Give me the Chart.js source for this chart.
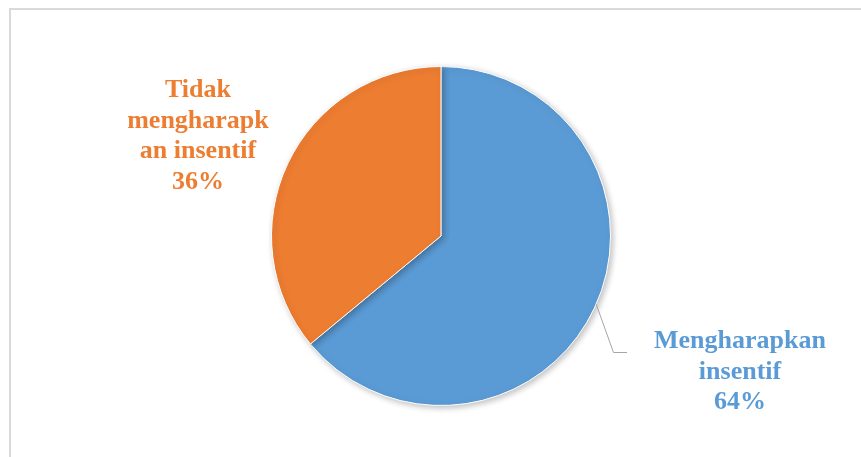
<!DOCTYPE html>
<html>
<head>
<meta charset="utf-8">
<script src="https://cdn.jsdelivr.net/npm/chart.js@4/dist/chart.umd.min.js"></script>
<style>
  body { margin: 0; background: #fff; }
  #wrap { width: 861px; height: 457px; position: relative; }
</style>
</head>
<body>
<div id="wrap"><canvas id="pieChart" width="861" height="457"></canvas></div>
<script>
const categories = ["Mengharapkan insentif", "Tidak mengharapkan insentif"];
const values = [64, 36];
const labelLines = [
  ["Mengharapkan", "insentif", "64%"],
  ["Tidak", "mengharapk", "an insentif", "36%"]
];
const colors = ["#5b9bd5", "#ed7d31"];

// frame line on the top and left edges
const framePlugin = {
  id: "frame",
  beforeDraw(chart) {
    const ctx = chart.ctx;
    ctx.save();
    ctx.strokeStyle = "#d9d9d9";
    ctx.lineWidth = 2;
    ctx.beginPath();
    ctx.moveTo(10, chart.height);
    ctx.lineTo(10, 9);
    ctx.lineTo(chart.width, 9);
    ctx.stroke();
    ctx.restore();
  }
};

// soft shadow under the pie
const shadowPlugin = {
  id: "pieShadow",
  beforeDatasetsDraw(chart) {
    const ctx = chart.ctx;
    ctx.save();
    ctx.shadowColor = "rgba(0,0,0,0.25)";
    ctx.shadowBlur = 6;
    ctx.shadowOffsetX = 2;
    ctx.shadowOffsetY = 2;
  },
  afterDatasetsDraw(chart) {
    chart.ctx.restore();
  }
};

// label baselines placed relative to the pie centre, plus the leader line
const labelOffsets = [[299, 112], [-243, -139]];
const labelPlugin = {
  id: "sliceLabels",
  afterDatasetsDraw(chart) {
    const ctx = chart.ctx;
    const arc = chart.getDatasetMeta(0).data[0];
    const cx = arc.x, cy = arc.y, r = arc.outerRadius;
    ctx.save();
    // leader line for the blue slice
    const a = Math.atan2(69, 157);
    ctx.strokeStyle = "#a6a6a6";
    ctx.lineWidth = 1;
    ctx.beginPath();
    ctx.moveTo(cx + Math.cos(a) * r, cy + Math.sin(a) * r);
    ctx.lineTo(cx + 172.5, cy + 116.5);
    ctx.lineTo(cx + 186, cy + 116.5);
    ctx.stroke();

    ctx.font = "bold 26px 'Liberation Serif', 'Times New Roman', serif";
    ctx.textAlign = "center";
    ctx.textBaseline = "alphabetic";
    labelLines.forEach((lines, i) => {
      ctx.fillStyle = colors[i];
      lines.forEach((t, j) => {
        ctx.fillText(t, cx + labelOffsets[i][0], cy + labelOffsets[i][1] + j * 30.5);
      });
    });
    ctx.restore();
  }
};

new Chart(document.getElementById("pieChart"), {
  type: "pie",
  data: {
    labels: categories,
    datasets: [{
      data: values,
      backgroundColor: colors,
      borderColor: "#ffffff",
      borderWidth: 1
    }]
  },
  options: {
    responsive: false,
    animation: false,
    rotation: 0,
    layout: { padding: { top: 66, bottom: 51, left: 21, right: 0 } },
    plugins: {
      legend: { display: false },
      tooltip: { enabled: false }
    }
  },
  plugins: [framePlugin, shadowPlugin, labelPlugin]
});
</script>
</body>
</html>
